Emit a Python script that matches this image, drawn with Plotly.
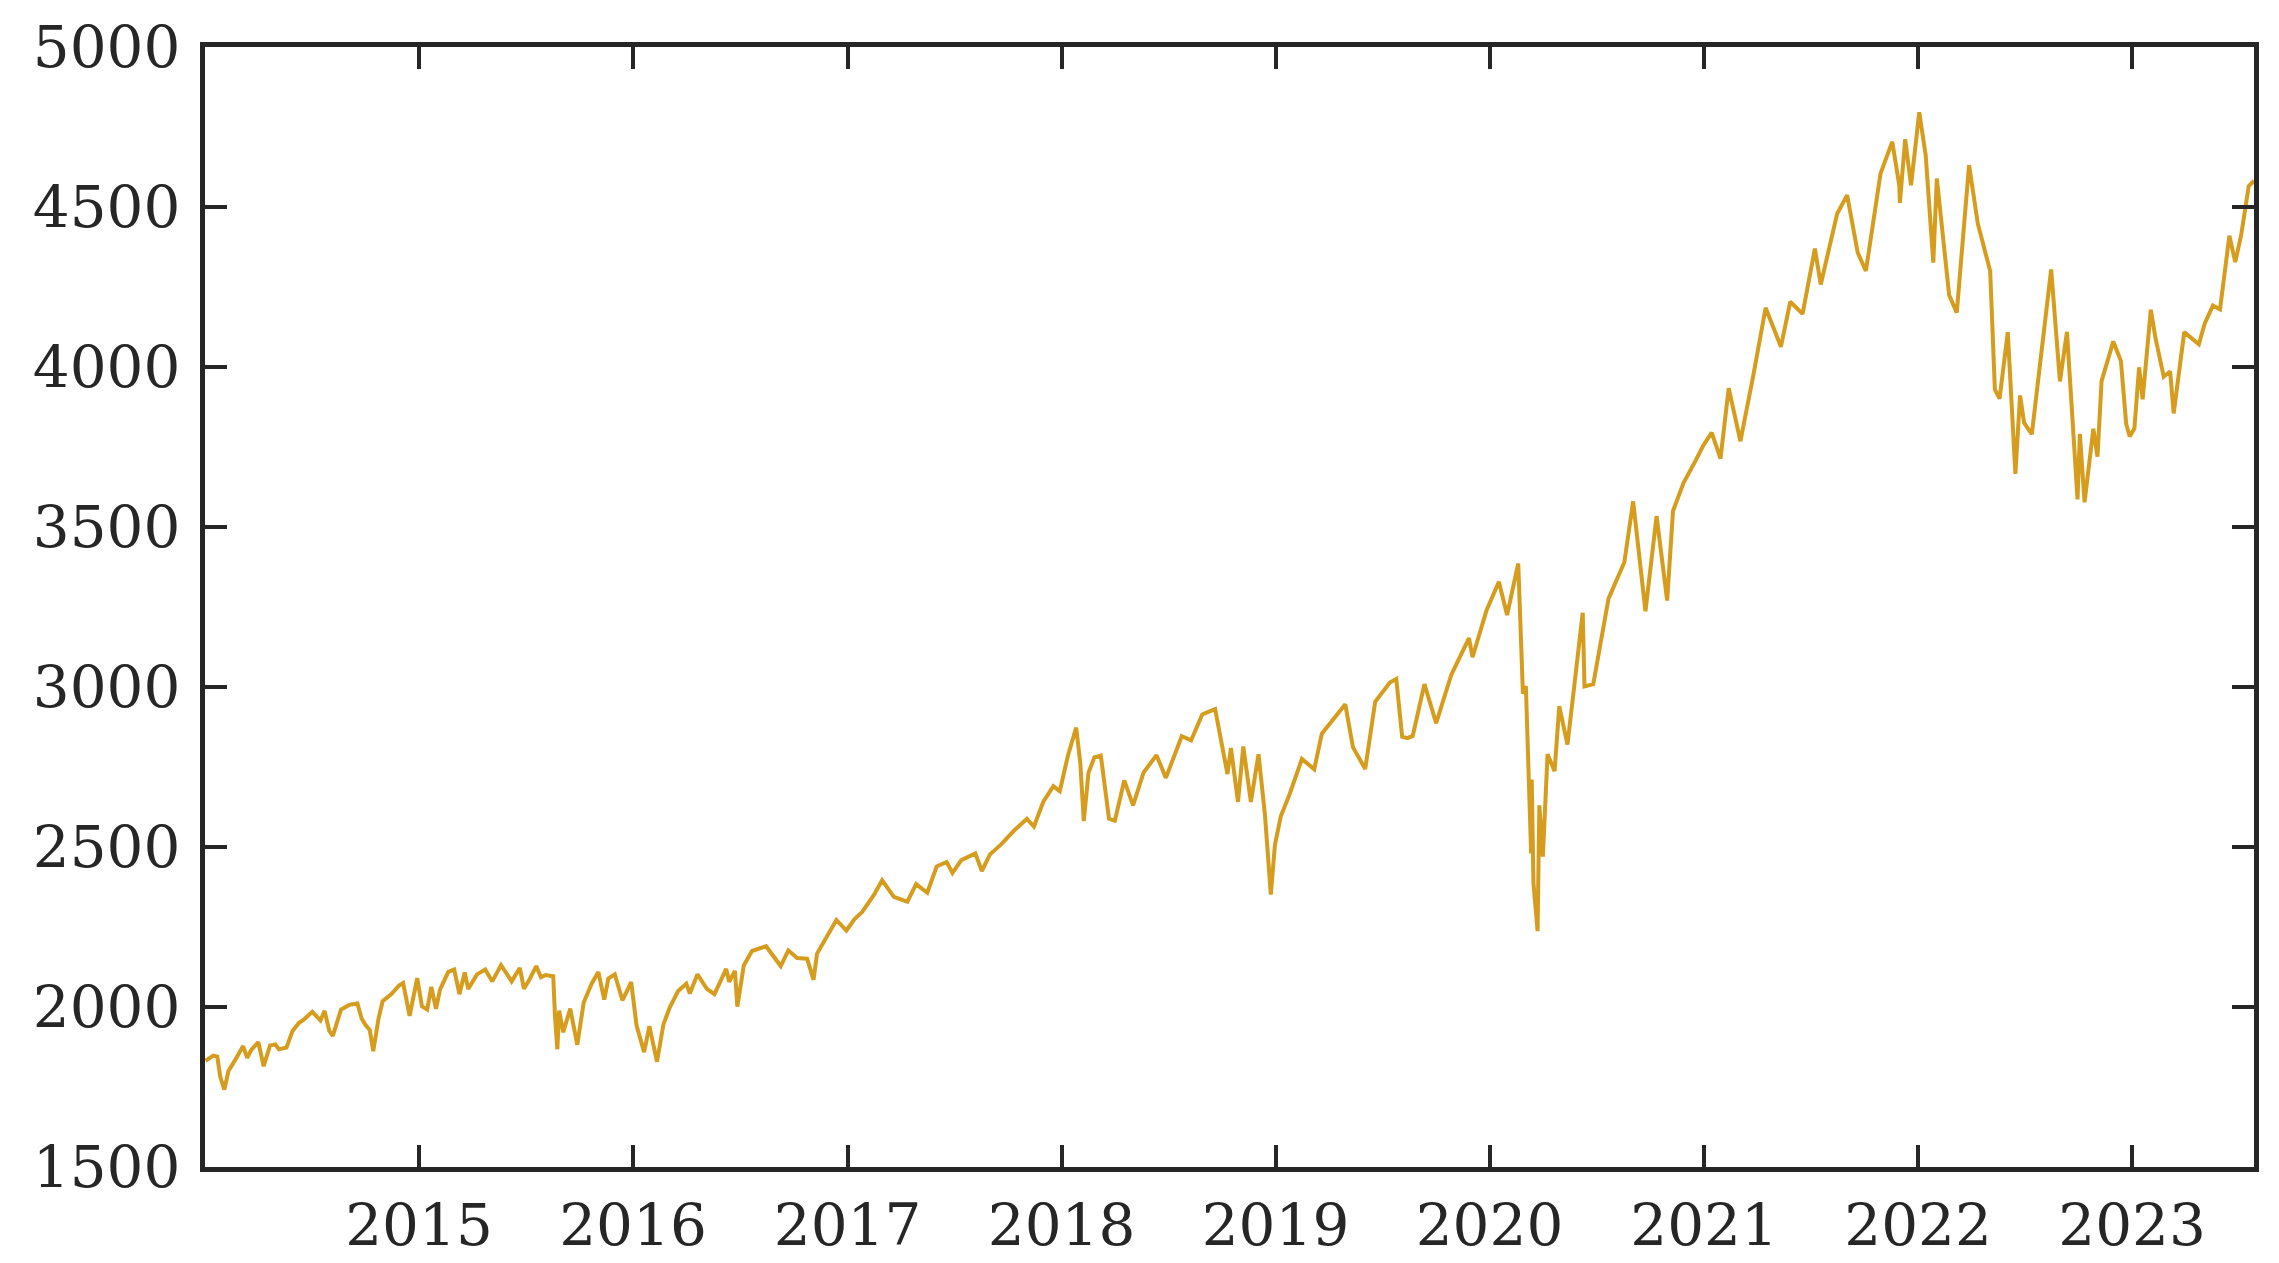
import plotly.graph_objects as go

dates = [
    "2014-01-02","2014-01-15","2014-01-22","2014-01-27","2014-02-03","2014-02-10","2014-02-20","2014-03-07","2014-03-14","2014-03-21",
    "2014-04-02","2014-04-11","2014-04-22","2014-05-01","2014-05-07","2014-05-20","2014-05-30","2014-06-10","2014-06-20","2014-07-03",
    "2014-07-17","2014-07-24","2014-08-01","2014-08-07","2014-08-21","2014-09-05","2014-09-18","2014-09-25","2014-10-01","2014-10-09",
    "2014-10-15","2014-10-24","2014-10-31","2014-11-14","2014-11-28","2014-12-05","2014-12-16","2014-12-29",
    "2015-01-06","2015-01-15","2015-01-22","2015-01-30","2015-02-06","2015-02-20","2015-03-02","2015-03-11","2015-03-20","2015-03-26",
    "2015-04-10","2015-04-24","2015-05-06","2015-05-21","2015-06-08","2015-06-22","2015-06-29","2015-07-07","2015-07-20","2015-07-28",
    "2015-08-05","2015-08-18","2015-08-21","2015-08-25","2015-08-28","2015-09-04","2015-09-16","2015-09-28","2015-10-09","2015-10-23",
    "2015-11-03","2015-11-13","2015-11-20","2015-12-01","2015-12-14","2015-12-29",
    "2016-01-07","2016-01-20","2016-01-29","2016-02-11","2016-02-22","2016-03-04","2016-03-18","2016-04-01","2016-04-07","2016-04-20",
    "2016-05-06","2016-05-19","2016-06-08","2016-06-13","2016-06-23","2016-06-27","2016-07-08","2016-07-22","2016-08-15","2016-09-09",
    "2016-09-22","2016-10-07","2016-10-24","2016-11-04","2016-11-10","2016-11-25","2016-12-13","2016-12-30",
    "2017-01-13","2017-01-26","2017-02-15","2017-03-01","2017-03-21","2017-04-13","2017-04-28","2017-05-17","2017-06-02","2017-06-19",
    "2017-06-29","2017-07-14","2017-08-07","2017-08-18","2017-09-01","2017-09-20","2017-10-13","2017-11-03","2017-11-15","2017-12-01",
    "2017-12-18","2017-12-29",
    "2018-01-12","2018-01-26","2018-02-02","2018-02-08","2018-02-16","2018-02-26","2018-03-09","2018-03-23","2018-04-02","2018-04-18",
    "2018-05-03","2018-05-21","2018-06-12","2018-06-28","2018-07-25","2018-08-10","2018-08-29","2018-09-20","2018-10-11","2018-10-17",
    "2018-10-29","2018-11-07","2018-11-20","2018-12-03","2018-12-14","2018-12-24","2018-12-31",
    "2019-01-10","2019-01-25","2019-02-15","2019-03-08","2019-03-21","2019-04-12","2019-04-30","2019-05-13","2019-06-03","2019-06-20",
    "2019-07-15","2019-07-26","2019-08-05","2019-08-14","2019-08-23","2019-09-12","2019-10-02","2019-10-28","2019-11-27","2019-12-03",
    "2019-12-27",
    "2020-01-17","2020-01-31","2020-02-19","2020-02-27","2020-03-03","2020-03-12","2020-03-13","2020-03-16","2020-03-23","2020-03-26",
    "2020-04-01","2020-04-09","2020-04-21","2020-04-29","2020-05-13","2020-06-08","2020-06-11","2020-06-26","2020-07-22","2020-08-18",
    "2020-09-02","2020-09-23","2020-10-12","2020-10-30","2020-11-09","2020-11-27","2020-12-18","2020-12-31",
    "2021-01-14","2021-01-29","2021-02-12","2021-03-04","2021-03-26","2021-04-16","2021-05-12","2021-05-28","2021-06-18","2021-07-09",
    "2021-07-19","2021-08-16","2021-09-02","2021-09-20","2021-10-04","2021-10-29","2021-11-18","2021-11-30","2021-12-01","2021-12-10",
    "2021-12-20",
    "2022-01-03","2022-01-14","2022-01-27","2022-02-02","2022-02-23","2022-03-08","2022-03-29","2022-04-13","2022-05-04","2022-05-12",
    "2022-05-20","2022-06-03","2022-06-16","2022-06-24","2022-07-01","2022-07-14","2022-08-16","2022-08-31","2022-09-12","2022-09-30",
    "2022-10-04","2022-10-12","2022-10-27","2022-11-03","2022-11-10","2022-11-30","2022-12-13","2022-12-22","2022-12-28",
    "2023-01-05","2023-01-13","2023-01-19","2023-02-02","2023-02-10","2023-02-24","2023-03-07","2023-03-13","2023-03-31","2023-04-25",
    "2023-05-05","2023-05-19","2023-05-31","2023-06-16","2023-06-26","2023-07-06","2023-07-19","2023-07-28",
]

index_values = [
    1832,1848,1845,1782,1742,1800,1830,1878,1841,1866,
    1890,1815,1880,1883,1868,1873,1924,1950,1963,1985,
    1958,1988,1925,1910,1992,2007,2011,1965,1946,1928,
    1862,1964,2018,2039,2067,2075,1972,2090,
    2002,1992,2063,1994,2055,2110,2117,2040,2108,2056,
    2102,2117,2080,2131,2080,2122,2057,2081,2128,2093,
    2100,2096,1971,1868,1989,1921,1995,1882,2014,2075,
    2109,2023,2089,2102,2021,2078,
    1943,1859,1940,1829,1946,2000,2050,2073,2042,2102,
    2057,2040,2119,2079,2113,2001,2130,2175,2190,2128,
    2177,2153,2151,2085,2167,2213,2272,2239,
    2275,2297,2350,2396,2344,2329,2384,2357,2439,2453,
    2419,2459,2480,2425,2477,2508,2553,2588,2564,2642,
    2690,2674,
    2786,2873,2762,2581,2732,2780,2786,2588,2582,2708,
    2630,2733,2787,2716,2846,2833,2914,2931,2728,2809,
    2641,2814,2641,2790,2600,2351,2507,
    2596,2665,2775,2743,2854,2907,2946,2812,2744,2954,
    3014,3025,2845,2840,2847,3009,2887,3039,3153,3093,
    3240,
    3329,3225,3386,2979,3003,2480,2711,2386,2237,2630,
    2470,2790,2737,2940,2820,3232,3002,3009,3276,3390,
    3580,3237,3534,3270,3550,3638,3709,3756,
    3795,3714,3934,3768,3974,4185,4063,4204,4166,4370,
    4258,4479,4537,4358,4300,4605,4704,4567,4513,4712,
    4568,
    4796,4662,4326,4589,4225,4170,4631,4447,4300,3930,
    3901,4109,3666,3911,3825,3790,4305,3955,4110,3586,
    3791,3577,3807,3720,3956,4080,4019,3822,3783,
    3808,3999,3899,4179,4090,3970,3986,3855,4109,4071,
    4136,4192,4180,4410,4328,4411,4565,4582,
]

year_ticks = ["2015-01-01","2016-01-01","2017-01-01","2018-01-01","2019-01-01",
              "2020-01-01","2021-01-01","2022-01-01","2023-01-01"]
year_labels = ["2015","2016","2017","2018","2019","2020","2021","2022","2023"]
y_ticks = [1500, 2000, 2500, 3000, 3500, 4000, 4500, 5000]

fig = go.Figure()
fig.add_trace(go.Scatter(
    x=dates, y=index_values, mode="lines",
    line=dict(color="#D69C1E", width=4),
    showlegend=False,
))

axis_common = dict(
    showline=True, linecolor="#262626", linewidth=5, mirror="ticks",
    ticks="inside", ticklen=22, tickwidth=4, tickcolor="#262626",
    showgrid=False, zeroline=False, automargin=False,
    tickfont=dict(family="DejaVu Serif", size=58, color="#262626"),
)

# page body has an 8px default margin, so the figure is offset by 8px
fig.update_layout(
    width=2271, height=1255,
    margin=dict(l=197, r=25, t=39, b=96),
    paper_bgcolor="white", plot_bgcolor="white",
    xaxis=dict(type="date", range=["2014-01-01", "2023-07-28"],
               tickvals=year_ticks, ticktext=year_labels,
               ticklabelstandoff=3, **axis_common),
    yaxis=dict(range=[1500, 5000], tickvals=y_ticks,
               ticklabelstandoff=8, **axis_common),
)

fig.write_html("out.html")
